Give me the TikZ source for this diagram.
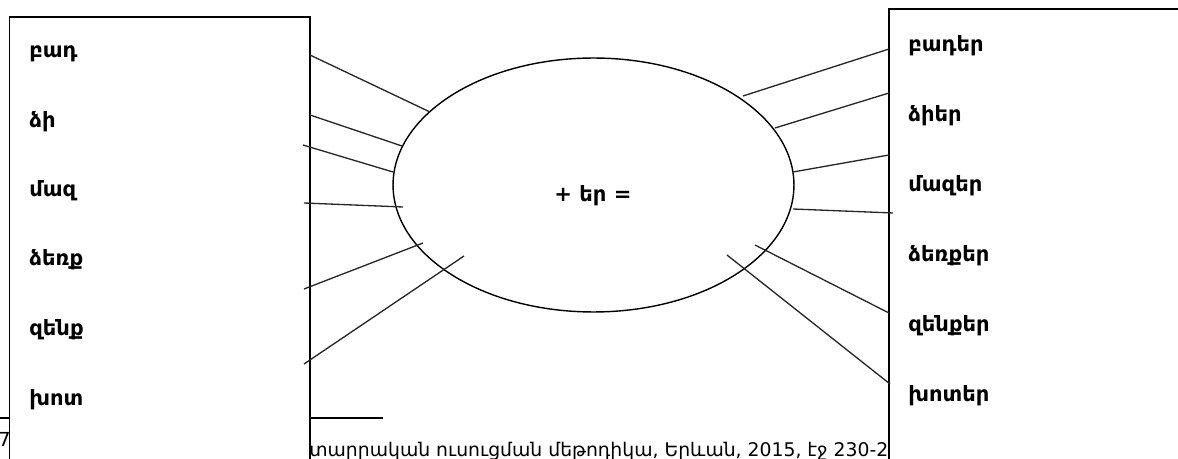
\documentclass[tikz,border=0pt]{standalone}
\usepackage{fontspec}
\setmainfont{DejaVu Sans}
\usetikzlibrary{shapes.geometric}

\tikzset{
  word/.style={anchor=base west, inner sep=0pt, font=\bfseries\fontsize{12}{14}\selectfont},
  spoke/.style={line width=0.75pt, black!85},
  frame/.style={draw, line width=1pt, fill=white, inner sep=0pt, outer sep=0pt, anchor=north west}
}

\begin{document}
\begin{tikzpicture}[x=0.02cm, y=-0.02cm]
  \useasboundingbox (0,0) rectangle (1178,459);
  \clip (0,0) rectangle (1178,459);

  % footnote, partly hidden by the boxes
  \coordinate (rulel) at (0,418);
  \coordinate (ruler) at (383,418);
  \draw[line width=0.8pt] (rulel) -- (ruler);
  \node[anchor=base west, inner sep=0pt, font=\fontsize{11}{12}\selectfont] (fnmark) at (-2,447) {7};
  \node[anchor=base west, inner sep=0pt, font=\fontsize{10.7}{12}\selectfont] (fntext) at (309,457)
    {տարրական ուսուցման մեթոդիկա, Երևան, 2015, էջ 230-2};

  % the two columns
  \node[frame, minimum width=6.01cm, minimum height=9.1cm] (sing) at (9.5,17) {};
  \node[frame, minimum width=6.02cm, minimum height=9.3cm] (plur) at (889,9) {};

  \node[word] (s1) at (29,58)  {բադ};
  \node[word] (s2) at (29,128) {ձի};
  \node[word] (s3) at (29,197) {մազ};
  \node[word] (s4) at (29,266) {ձեռք};
  \node[word] (s5) at (29,336) {զենք};
  \node[word] (s6) at (29,406) {խոտ};

  \node[word] (p1) at (908,52)  {բադեր};
  \node[word] (p2) at (908,122) {ձիեր};
  \node[word] (p3) at (908,192) {մազեր};
  \node[word] (p4) at (908,262) {ձեռքեր};
  \node[word] (p5) at (908,332) {զենքեր};
  \node[word] (p6) at (908,402) {խոտեր};

  % the ending in the middle
  \node[draw, ellipse, line width=0.8pt, minimum width=8.02cm, minimum height=5.08cm, inner sep=0pt] (ending) at (593.5,185) {};
  \node[anchor=base, inner sep=0pt, font=\bfseries\fontsize{12}{14}\selectfont] (suffix) at (593,202) {+ եր =};

  % spokes on the left
  \coordinate (la1) at (310,55);  \coordinate (lb1) at (430,112);
  \coordinate (la2) at (310,115); \coordinate (lb2) at (402,146);
  \coordinate (la3) at (303,145); \coordinate (lb3) at (393,172);
  \coordinate (la4) at (304,203); \coordinate (lb4) at (403,207);
  \coordinate (la5) at (304,289); \coordinate (lb5) at (423,243);
  \coordinate (la6) at (304,364); \coordinate (lb6) at (464,256);
  \draw[spoke] (la1) -- (lb1);
  \draw[spoke] (la2) -- (lb2);
  \draw[spoke] (la3) -- (lb3);
  \draw[spoke] (la4) -- (lb4);
  \draw[spoke] (la5) -- (lb5);
  \draw[spoke] (la6) -- (lb6);

  % spokes on the right
  \coordinate (ra1) at (743,96);  \coordinate (rb1) at (889,49);
  \coordinate (ra2) at (775,128); \coordinate (rb2) at (889,93);
  \coordinate (ra3) at (793,172); \coordinate (rb3) at (889,155);
  \coordinate (ra4) at (793,209); \coordinate (rb4) at (893,213);
  \coordinate (ra5) at (755,245); \coordinate (rb5) at (889,313);
  \coordinate (ra6) at (727,255); \coordinate (rb6) at (890,384);
  \draw[spoke] (ra1) -- (rb1);
  \draw[spoke] (ra2) -- (rb2);
  \draw[spoke] (ra3) -- (rb3);
  \draw[spoke] (ra4) -- (rb4);
  \draw[spoke] (ra5) -- (rb5);
  \draw[spoke] (ra6) -- (rb6);
\end{tikzpicture}
\end{document}
